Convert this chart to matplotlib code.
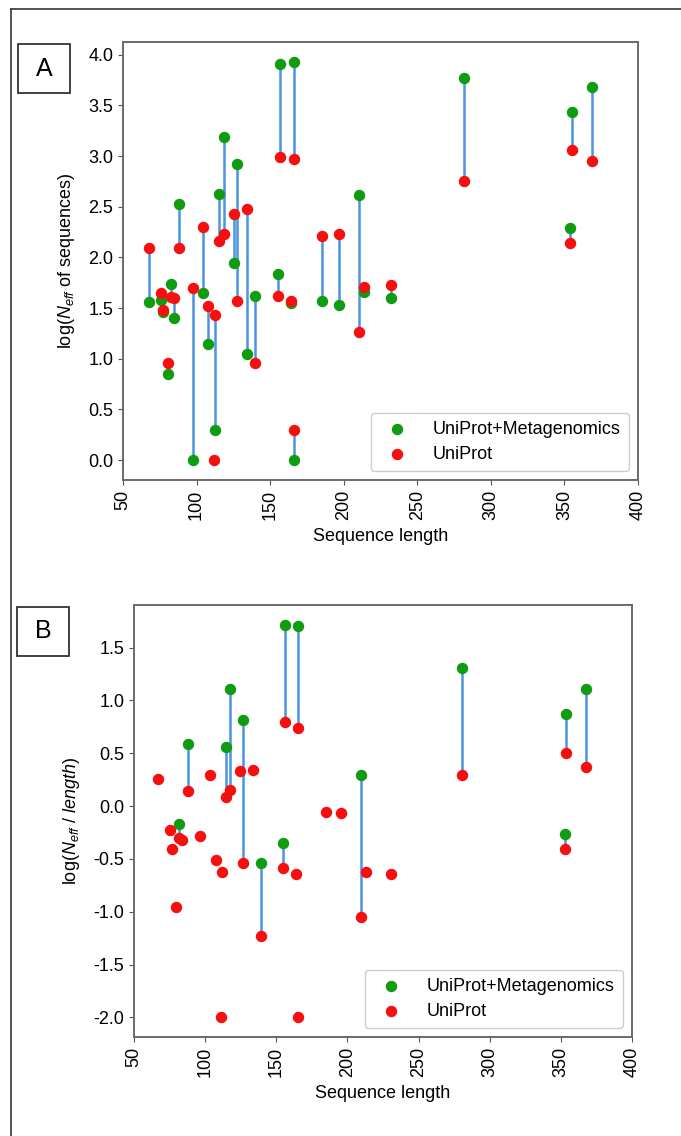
import numpy as np
import matplotlib
matplotlib.use('Agg')
import matplotlib.pyplot as plt
from matplotlib.patches import Rectangle
from matplotlib.lines import Line2D

plt.rcParams['font.family'] = ['Liberation Sans', 'DejaVu Sans']
plt.rcParams['mathtext.fontset'] = 'custom'
plt.rcParams['mathtext.rm'] = 'Liberation Sans'
plt.rcParams['mathtext.it'] = 'Liberation Sans:italic'

nan = np.nan

# panel A: log(Neff of sequences)
len_a = [67.4, 76.0, 77.1, 80.5, 82.4, 84.8, 88.2, 97.5, 104.5, 108.1,
         111.8, 112.7, 115.4, 118.5, 125.6, 127.4, 134.4, 139.4, 155.6, 156.6,
         164.3, 166.5, 166.5, 185.5, 196.8, 210.6, 213.8, 231.9, 281.9, 354.1,
         355.0, 369.0]
meta_a = [1.56, 1.58, 1.46, 0.85, 1.74, 1.40, 2.53, 0.00, 1.65, 1.15,
          nan, 0.30, 2.63, 3.19, 1.94, 2.92, 1.05, 1.62, 1.84, 3.91,
          1.55, 3.93, 0.00, 1.57, 1.53, 2.62, 1.66, 1.60, 3.77, 2.29,
          3.43, 3.68]
uni_a = [2.09, 1.65, 1.48, 0.96, 1.61, 1.60, 2.09, 1.70, 2.30, 1.52,
         0.00, 1.43, 2.16, 2.23, 2.43, 1.57, 2.48, 0.96, 1.62, 2.99,
         1.57, 2.97, 0.30, 2.21, 2.23, 1.26, 1.71, 1.73, 2.75, 2.14,
         3.06, 2.95]

# panel B: log(Neff / length)
len_b = [66.7, 75.6, 76.5, 79.8, 81.5, 83.8, 87.8, 96.7, 103.7, 107.5,
         110.8, 111.9, 114.5, 117.8, 124.6, 126.9, 133.8, 139.0, 154.6, 155.8,
         163.7, 165.2, 165.5, 184.9, 195.7, 209.8, 212.9, 230.9, 280.7, 352.8,
         353.8, 367.9]
meta_b = [nan, nan, nan, nan, -0.17, nan, 0.585, nan, nan, nan,
          nan, nan, 0.56, 1.11, nan, 0.815, nan, -0.54, -0.35, 1.716,
          nan, 1.706, nan, nan, nan, 0.294, nan, nan, 1.31, -0.26,
          0.872, 1.11]
uni_b = [0.26, -0.23, -0.41, -0.96, -0.30, -0.32, 0.145, -0.285, 0.29, -0.51,
         -2.0, -0.62, 0.09, 0.15, 0.33, -0.54, 0.345, -1.225, -0.585, 0.796,
         -0.64, 0.742, -2.0, -0.06, -0.07, -1.05, -0.62, -0.64, 0.29, -0.41,
         0.50, 0.373]

xticks = [50, 100, 150, 200, 250, 300, 350, 400]

green = '#109c10'
red = '#f50f0f'
blue = '#4a94e0'


def panel(ax, x, meta, uni, yticks, ylabel):
    x = np.array(x)
    meta = np.array(meta)
    uni = np.array(uni)
    ok = ~np.isnan(meta)
    ax.vlines(x[ok], np.minimum(meta[ok], uni[ok]), np.maximum(meta[ok], uni[ok]),
              color=blue, lw=1.8, zorder=1)
    ax.scatter(x[ok], meta[ok], s=52, color=green, zorder=2, label='UniProt+Metagenomics')
    ax.scatter(x, uni, s=52, color=red, zorder=3, label='UniProt')
    ax.set_xlim(50, 400)
    ax.set_xticks(xticks)
    ax.set_xticklabels([str(t) for t in xticks], rotation=90)
    ax.set_yticks(yticks)
    ax.set_yticklabels(['%.1f' % t for t in yticks])
    ax.tick_params(labelsize=13, length=3.5, color='#555555')
    for s in ax.spines.values():
        s.set_color('#6a6a6a')
        s.set_linewidth(1.4)
    ax.set_xlabel('Sequence length', fontsize=13, labelpad=6)
    ax.set_ylabel(ylabel, fontsize=13, labelpad=8)
    ax.legend(loc='lower right', fontsize=13, handletextpad=1.0, borderpad=0.45,
              labelspacing=0.45, borderaxespad=0.5, framealpha=1, edgecolor='#cccccc')


fig = plt.figure(figsize=(6.81, 11.36), dpi=100)

ax1 = fig.add_axes([0.1806, 0.5775, 0.7562, 0.3856])
panel(ax1, len_a, meta_a, uni_a, [0.0, 0.5, 1.0, 1.5, 2.0, 2.5, 3.0, 3.5, 4.0],
      'log($N_{eff}$ of sequences)')

ax2 = fig.add_axes([0.1968, 0.0871, 0.7313, 0.3803])
panel(ax2, len_b, meta_b, uni_b, [-2.0, -1.5, -1.0, -0.5, 0.0, 0.5, 1.0, 1.5],
      'log($N_{eff}$ / $length$)')

# outer frame
fig.add_artist(Line2D([11 / 681, 11 / 681], [0, 1 - 9 / 1136], color='#444444', lw=1.3))
fig.add_artist(Line2D([11 / 681, 1], [1 - 9 / 1136, 1 - 9 / 1136], color='#444444', lw=1.3))

# panel letters
for lab, x0, y0 in [('A', 18, 44), ('B', 17, 607)]:
    fig.add_artist(Rectangle((x0 / 681, 1 - (y0 + 49) / 1136), 52 / 681, 49 / 1136,
                             fill=False, edgecolor='#333333', lw=1.3))
    fig.text((x0 + 26) / 681, 1 - (y0 + 24.5) / 1136, lab, fontsize=18,
             ha='center', va='center')

fig.savefig('out.png', dpi=100)
